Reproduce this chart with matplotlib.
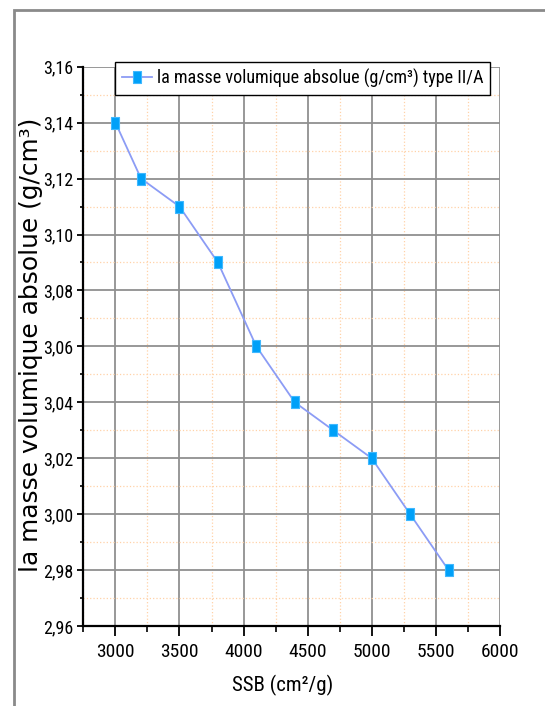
import matplotlib.pyplot as plt
from matplotlib import font_manager
from matplotlib.patches import Rectangle
from matplotlib.ticker import MultipleLocator, FuncFormatter
from matplotlib.path import Path

# données
ssb = [3000, 3200, 3500, 3800, 4100, 4400, 4700, 5000, 5300, 5600]
masse_vol = [3.14, 3.12, 3.11, 3.09, 3.06, 3.04, 3.03, 3.02, 3.00, 2.98]
legend_label = 'la masse volumique absolue (g/cm³) type II/A'

installed = {f.name for f in font_manager.fontManager.ttflist}
narrow_pref = ['Liberation Sans Narrow', 'Arial Narrow', 'Roboto Condensed',
               'Open Sans Condensed', 'Liberation Sans', 'Roboto']
narrow = [f for f in narrow_pref if f in installed][:1] + ['DejaVu Sans']
plt.rcParams['font.family'] = narrow

fig = plt.figure(figsize=(5.45, 7.06), dpi=100)
ax = fig.add_axes([0.153, 0.1133, 0.764, 0.7922])

# cadre extérieur gris
fig.patches.append(Rectangle((14 / 545, -0.05), 1.2, 1.05 - 10 / 706, fill=False,
                             edgecolor='#8a8a8a', linewidth=2,
                             transform=fig.transFigure))

# marqueur rectangulaire (plus haut que large)
rect = Path([(-0.6, -1), (0.6, -1), (0.6, 1), (-0.6, 1), (-0.6, -1)],
            [Path.MOVETO, Path.LINETO, Path.LINETO, Path.LINETO, Path.CLOSEPOLY])

ax.plot(ssb, masse_vol, color='#8c9cf5', linewidth=1.3, marker=rect,
        markersize=9, markerfacecolor='#00a0f8', markeredgecolor='#40b8ff',
        markeredgewidth=0.8, label=legend_label, zorder=3)

ax.set_xlim(2750, 6000)
ax.set_ylim(2.96, 3.16)
ax.xaxis.set_major_locator(MultipleLocator(500))
ax.xaxis.set_minor_locator(MultipleLocator(250))
ax.yaxis.set_major_locator(MultipleLocator(0.02))
ax.yaxis.set_minor_locator(MultipleLocator(0.01))
ax.yaxis.set_major_formatter(FuncFormatter(lambda v, p: f'{v:.2f}'.replace('.', ',')))

ax.grid(which='major', color='#909090', linewidth=1.3)
ax.grid(which='minor', color='#ffd2a8', linewidth=0.9, linestyle=':')
ax.set_axisbelow(True)

for s in ['top', 'right']:
    ax.spines[s].set_visible(False)
for s in ['left', 'bottom']:
    ax.spines[s].set_linewidth(1.6)

ax.tick_params(axis='x', which='major', direction='out', length=7, width=1.3, labelsize=14, pad=5)
ax.tick_params(axis='x', which='minor', direction='out', length=4, width=1.2)
ax.tick_params(axis='y', which='major', direction='out', length=4.5, width=1.3, labelsize=13, pad=3)
ax.tick_params(axis='y', which='minor', direction='out', length=2.5, width=1.2)

ax.set_xlabel('SSB (cm²/g)', fontsize=15)
ax.xaxis.set_label_coords(0.479, -0.087)
ylab = ax.set_ylabel('la masse volumique absolue (g/cm³)', fontsize=18,
                     family=['DejaVu Sans'])
ax.yaxis.set_label_coords(-0.098, 0.502)

leg = ax.legend(loc='upper left', bbox_to_anchor=(0.076, 1.008), fontsize=13.5,
                frameon=True, fancybox=False, edgecolor='black', framealpha=1,
                borderpad=0.35, handlelength=1.6, handletextpad=0.3, borderaxespad=0)
leg.get_frame().set_linewidth(1.0)

# ajuste les tailles de texte aux longueurs mesurées sur la référence
fig.canvas.draw()
txt = leg.get_texts()[0]
txt.set_fontsize(13.5 * min(1.0, 328 / txt.get_window_extent().width))
ylab.set_fontsize(18 * 455 / ylab.get_window_extent().height)

fig.savefig('out.png', dpi=100)
